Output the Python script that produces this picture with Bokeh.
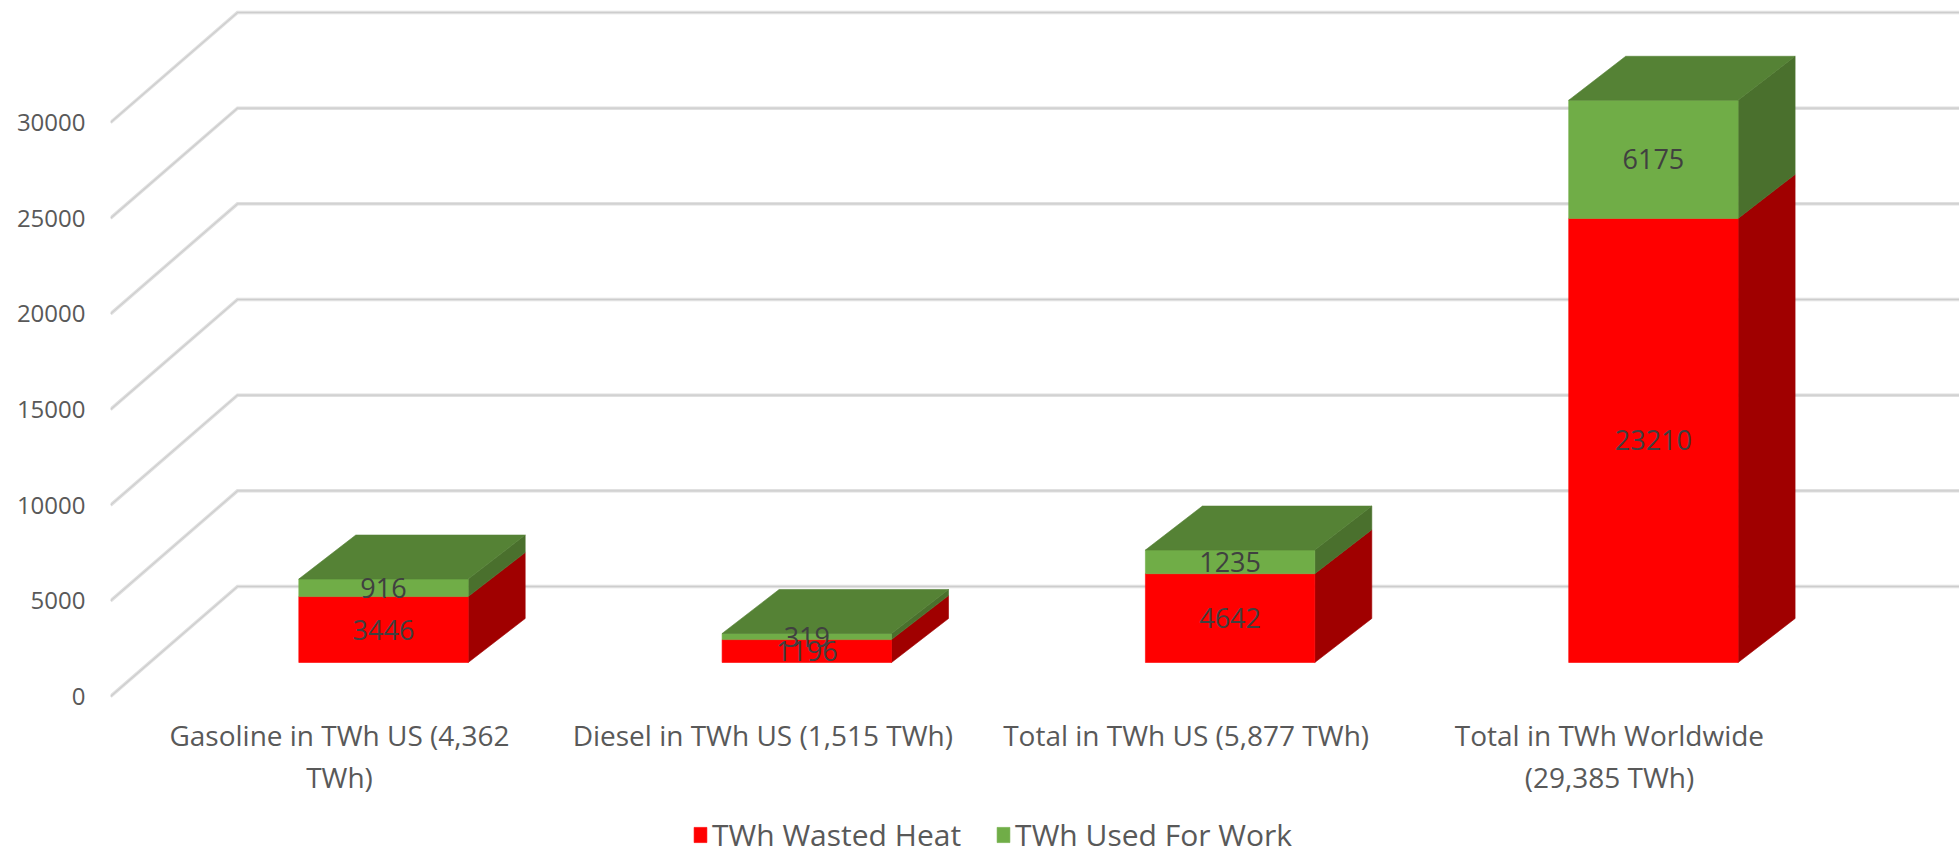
from bokeh.plotting import figure
from bokeh.models import Range1d, FixedTicker, Legend, LegendItem
from bokeh.core.properties import value
from bokeh.embed import file_html
from bokeh.resources import INLINE

# ---------------- data ----------------
categories = [
    "Gasoline in TWh US (4,362\nTWh)",
    "Diesel in TWh US (1,515 TWh)",
    "Total in TWh US (5,877 TWh)",
    "Total in TWh Worldwide\n(29,385 TWh)",
]
series_names = ["TWh Wasted Heat", "TWh Used For Work"]
wasted_heat = [3446, 1196, 4642, 23210]
used_for_work = [916, 319, 1235, 6175]
y_ticks = [0, 5000, 10000, 15000, 20000, 25000, 30000]

# ---------------- layout constants ----------------
W, H = 1959, 855
LEFT = 110            # frame left (front edge of the side wall)
PX_PER_UNIT = 0.019133
Y0_PX = 696           # screen y of value 0 at the front plane
CAT0_PX = 339
CAT_STEP_PX = 423.3

def dx(px):
    return px / CAT_STEP_PX

def dy(px):
    return px / PX_PER_UNIT

x_start = (LEFT - CAT0_PX) / CAT_STEP_PX
x_end = (W - CAT0_PX) / CAT_STEP_PX
y_end = Y0_PX / PX_PER_UNIT
y_start = (Y0_PX - H) / PX_PER_UNIT

WALL_DX, WALL_DY = dx(127), dy(110)
BAR_OFF_X, BAR_OFF_Y = dx(44), dy(34)
BAR_DX, BAR_DY = dx(57), dy(44)
BAR_HALF = dx(84.7)

FONT = "Open Sans"
RED, RED_SIDE = "#FF0000", "#A00000"
GREEN, GREEN_SIDE, GREEN_TOP = "#70AD47", "#4A702D", "#558235"

p = figure(width=W, height=H, output_backend="svg", toolbar_location=None,
           x_range=Range1d(x_start, x_end), y_range=Range1d(y_start, y_end),
           x_axis_location=None, min_border_left=LEFT, min_border_right=0,
           min_border_top=0, min_border_bottom=0)
p.outline_line_color = None
p.grid.visible = False
p.background_fill_color = "white"
p.border_fill_color = "white"

yax = p.yaxis[0]
yax.ticker = FixedTicker(ticks=y_ticks)
yax.axis_line_color = None
yax.major_tick_line_color = None
yax.minor_tick_line_color = None
yax.major_tick_out = 0
yax.major_tick_in = 0
yax.major_label_standoff = 25
yax.major_label_text_font = FONT
yax.major_label_text_font_size = "24px"
yax.major_label_text_color = "#595959"

# ---------------- 3D gridlines (side wall + back wall) ----------------
g_xs, g_ys = [], []
for v in y_ticks:
    g_xs.append([x_start, x_start + WALL_DX, x_end])
    g_ys.append([v, v + WALL_DY, v + WALL_DY])
p.multi_line(xs=g_xs, ys=g_ys, line_color="#E0E0E0", line_width=3.5, line_join="miter")
p.multi_line(xs=g_xs, ys=g_ys, line_color="#CDCDCD", line_width=1.2, line_join="miter")

# ---------------- bars ----------------
series = [
    (wasted_heat, RED, RED_SIDE),
    (used_for_work, GREEN, GREEN_SIDE),
]
front_renderers = []
bottoms = [0] * len(categories)
lab_x, lab_y, lab_t = [], [], []
for vals, col, side_col in series:
    fl, fr, fb, ft = [], [], [], []
    sxs, sys_ = [], []
    for i, v in enumerate(vals):
        b = bottoms[i]
        t = b + v
        left = i + BAR_OFF_X - BAR_HALF
        right = i + BAR_OFF_X + BAR_HALF
        fb_ = b + BAR_OFF_Y
        ft_ = t + BAR_OFF_Y
        fl.append(left); fr.append(right); fb.append(fb_); ft.append(ft_)
        sxs.append([right, right + BAR_DX, right + BAR_DX, right])
        sys_.append([fb_, fb_ + BAR_DY, ft_ + BAR_DY, ft_])
        lab_x.append(i + BAR_OFF_X)
        lab_y.append((fb_ + ft_) / 2)
        lab_t.append(str(v))
        bottoms[i] = t
    p.patches(xs=sxs, ys=sys_, fill_color=side_col, line_color=side_col, line_width=0.6)
    r = p.quad(left=fl, right=fr, bottom=fb, top=ft, fill_color=col, line_color=col, line_width=0.6)
    front_renderers.append(r)

# top faces
txs, tys = [], []
for i, tot in enumerate(bottoms):
    left = i + BAR_OFF_X - BAR_HALF
    right = i + BAR_OFF_X + BAR_HALF
    T = tot + BAR_OFF_Y
    txs.append([left, right, right + BAR_DX, left + BAR_DX])
    tys.append([T, T, T + BAR_DY, T + BAR_DY])
p.patches(xs=txs, ys=tys, fill_color=GREEN_TOP, line_color=GREEN_TOP, line_width=0.6)

# data labels
p.text(x=lab_x, y=lab_y, text=lab_t, text_align="center", text_baseline="middle",
       text_font=value(FONT), text_font_size="27px", text_color="#404040")

# category labels (front plane, below the floor)
cx, cy, ct = [], [], []
for i, c in enumerate(categories):
    for j, line in enumerate(c.split("\n")):
        cx.append(i)
        cy.append((Y0_PX - (734 + j * 42)) / PX_PER_UNIT)
        ct.append(line)
p.text(x=cx, y=cy, text=ct, text_align="center", text_baseline="middle",
       text_font=value(FONT), text_font_size="28px", text_color="#595959")

# legend
legend = Legend(items=[LegendItem(label=series_names[k], renderers=[front_renderers[k]]) for k in range(2)],
                orientation="horizontal", location=(582, 0),
                glyph_width=16, glyph_height=19, label_standoff=4, spacing=34,
                padding=0, margin=0, border_line_color=None, background_fill_alpha=0,
                label_text_font=FONT, label_text_font_size="30px", label_text_color="#595959")
p.add_layout(legend, "center")

open("out.html", "w").write(file_html(p, INLINE))
